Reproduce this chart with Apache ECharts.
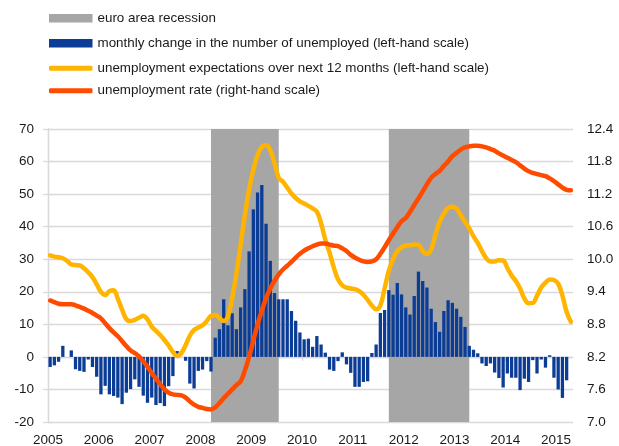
<!DOCTYPE html>
<html><head><meta charset="utf-8">
<script src="https://cdn.jsdelivr.net/npm/echarts@6/dist/echarts.min.js"></script>
<style>html,body{margin:0;padding:0;background:#fff}#c{width:619px;height:446px}</style>
</head><body><div id="c"></div>
<script>
// ---- data (monthly, Jan 2005 onwards) ----
const startYear = 2005;
const yearLabels = ['2005','2006','2007','2008','2009','2010','2011','2012','2013','2014','2015'];
const rightTicks = [7.0, 7.6, 8.2, 8.8, 9.4, 10.0, 10.6, 11.2, 11.8, 12.4];
const recessions = [['2008-03', '2009-07'], ['2011-09', '2013-04']];
const seriesNames = [
  'euro area recession',
  'monthly change in the number of unemployed (left-hand scale)',
  'unemployment expectations over next 12 months (left-hand scale)',
  'unemployment rate (right-hand scale)'
];
const unemployedChange = [
  -3.1, -2.6, -1.5, 3.4, 0, 2.0, -3.8, -4.3, -4.6, -0.8, -3.1, -6.1,
  -11.5, -8.9, -11.5, -12.0, -12.5, -14.5, -11.0, -9.9, -6.9, -9.2, -11.9, -14.1,
  -12.5, -14.8, -14.2, -15.1, -9.0, -5.9, 1.8, 0, -1.2, -8.2, -9.7, -4.3,
  -3.9, -1.3, -4.5, 5.9, 8.5, 17.7, 9.7, 13.4, 8.5, 15.2, 20.8, 32.4,
  45.3, 50.5, 52.8, 40.9, 29.5, 19.6, 17.7, 17.7, 17.7, 14.1, 11.1, 7.5,
  5.4, 5.6, 3.1, 6.4, 3.8, 1.3, -3.9, -4.3, -1.3, 1.4, -2.3, -4.9,
  -9.2, -9.2, -7.7, -7.5, 1.2, 3.8, 13.5, 14.4, 20.5, 19.1, 22.7, 19.2,
  15.2, 13.0, 18.7, 26.2, 23.3, 21.3, 14.8, 10.7, 7.7, 14.1, 17.4, 16.6,
  14.8, 12.3, 9.2, 3.4, 2.2, 1.1, -2.0, -2.8, -2.0, -4.8, -6.5, -9.4,
  -5.1, -6.4, -6.4, -10.2, -6.7, -7.7, -1.0, -5.1, -0.8, -3.3, 0.5, -6.4,
  -10.0, -12.6, -7.2
];
const expectations = [
  31.2, 30.8, 30.6, 30.3, 29.5, 28.4, 28.2, 28.1, 27.2, 26.0, 24.5, 22.3,
  20.0, 19.0, 20.2, 20.5, 17.8, 14.5, 11.6, 11.0, 11.4, 12.0, 12.6, 11.5,
  9.3, 8.0, 6.7, 5.2, 3.5, 1.5, 0.3, 1.2, 3.6, 6.5, 8.3, 9.0,
  9.7, 11.0, 12.6, 12.9, 11.9, 11.0, 12.5, 18.0, 25.6, 34.5, 43.5, 51.5,
  57.5, 62.0, 64.5, 65.0, 63.5, 59.5, 55.0, 53.8, 52.0, 50.2, 48.8, 47.8,
  47.1, 46.4, 45.6, 44.6, 41.0, 36.0, 32.0, 27.5, 23.8, 22.0, 21.3, 21.0,
  20.8, 20.2, 19.1, 17.5, 15.8, 14.6, 15.8, 21.0, 26.5, 30.0, 32.5, 33.6,
  34.2, 34.3, 34.5, 34.4, 32.5, 31.6, 33.0, 37.5, 41.5, 44.0, 45.8, 46.1,
  45.5, 43.5, 41.5, 39.5, 37.0, 35.0, 32.5, 30.3, 29.3, 29.3, 29.7, 29.6,
  27.3, 25.0, 23.3, 21.0, 18.0, 16.5, 16.6, 18.8, 21.3, 22.8, 23.8, 23.6,
  22.5, 18.8, 13.8, 10.8
];
const unemploymentRate = [
  9.24, 9.21, 9.18, 9.17, 9.17, 9.17, 9.15, 9.12, 9.09, 9.05, 9.01, 8.96,
  8.91, 8.82, 8.73, 8.65, 8.58, 8.49, 8.40, 8.32, 8.27, 8.21, 8.12, 8.02,
  7.90, 7.80, 7.70, 7.60, 7.54, 7.51, 7.50, 7.49, 7.45, 7.38, 7.32, 7.28,
  7.26, 7.24, 7.23, 7.27, 7.35, 7.44, 7.52, 7.60, 7.68, 7.75, 7.95, 8.20,
  8.50, 8.80, 9.05, 9.28, 9.46, 9.60, 9.72, 9.81, 9.88, 9.95, 10.03, 10.10,
  10.16, 10.20, 10.24, 10.27, 10.29, 10.29, 10.27, 10.25, 10.24, 10.20, 10.15, 10.08,
  10.03, 9.99, 9.96, 9.95, 9.96, 10.00, 10.10, 10.22, 10.35, 10.47, 10.59, 10.70,
  10.76, 10.87, 11.00, 11.12, 11.25, 11.38, 11.50, 11.57, 11.63, 11.72, 11.80, 11.90,
  11.96, 12.02, 12.06, 12.08, 12.09, 12.09, 12.08, 12.06, 12.03, 12.00, 11.95, 11.91,
  11.87, 11.83, 11.79, 11.73, 11.67, 11.62, 11.59, 11.57, 11.55, 11.53, 11.49, 11.44,
  11.38, 11.32, 11.28, 11.27
];

// ---- helpers: month index (centre of month) on a value x-axis ----
const monthsShown = 124;
const toPoint = (v, i) => [i + 0.5, v];
const monthCentre = s => { const [y, m] = s.split('-').map(Number); return (y - startYear) * 12 + (m - 1) + 0.5; };
const yearTicks = yearLabels.map((_, k) => k * 12);

const FONT = 'Liberation Sans';
const TXT = '#1a1a1a';
const GRID = '#d9d9d9';
const COLORS = ['#a6a6a6', '#0b3c96', '#ffb400', '#ff4b00'];

function legendItem(idx, top, h, icon) {
  return {
    data: [{ name: seriesNames[idx], icon: icon }],
    left: 49, top: top, padding: 0, orient: 'vertical',
    itemWidth: 43.5, itemHeight: h, selectedMode: false,
    itemStyle: { borderWidth: 0 },
    textStyle: { fontFamily: FONT, fontSize: 13.4, color: TXT, lineHeight: 16 }
  };
}

const chart = echarts.init(document.getElementById('c'), null, { renderer: 'canvas' });
chart.setOption({
  animation: false,
  color: COLORS,
  grid: { left: 48, right: 46, top: 129, bottom: 24, containLabel: false, outerBoundsMode: 'none' },
  legend: [
    legendItem(0, 10.3, 8.5, 'rect'),
    legendItem(1, 35.3, 8.5, 'rect'),
    legendItem(2, 60.3, 5, 'roundRect'),
    legendItem(3, 82.7, 5, 'roundRect')
  ],
  xAxis: [
    {
      type: 'value', min: 0, max: monthsShown, interval: 12, position: 'bottom',
      axisLine: { show: false, onZero: false }, axisTick: { show: false }, splitLine: { show: false },
      axisLabel: {
        margin: 11, fontFamily: FONT, fontSize: 13.5, color: TXT,
        customValues: yearTicks,
        formatter: v => yearLabels[Math.round(v / 12)] || ''
      }
    },
    {
      type: 'value', min: 0, max: monthsShown, interval: 12, position: 'bottom',
      axisLine: { show: true, onZero: true, onZeroAxisIndex: 0, lineStyle: { color: GRID, width: 1.3 } },
      axisTick: { show: true, length: 4, customValues: yearTicks, lineStyle: { color: GRID, width: 1.3 } },
      axisLabel: { show: false }, splitLine: { show: false }
    }
  ],
  yAxis: [
    {
      type: 'value', min: -20, max: 70, interval: 10, position: 'left',
      axisLine: { show: true, lineStyle: { color: GRID, width: 1.3 } },
      axisTick: { show: true, length: 5, lineStyle: { color: GRID, width: 1.3 } },
      splitLine: { show: true, lineStyle: { color: GRID, width: 1.3 } },
      axisLabel: { margin: 14, fontFamily: FONT, fontSize: 13.5, color: TXT }
    },
    {
      type: 'value', min: 7.0, max: 12.4, position: 'right',
      axisLine: { show: true, lineStyle: { color: GRID, width: 1.3 } },
      axisTick: { show: true, length: 5, customValues: rightTicks, lineStyle: { color: GRID, width: 1.3 } },
      splitLine: { show: false },
      axisLabel: { margin: 14, fontFamily: FONT, fontSize: 13.5, color: TXT,
        customValues: rightTicks, formatter: v => Number(v).toFixed(1) }
    }
  ],
  series: [
    {
      name: seriesNames[0], type: 'line', data: [], z: 1,
      itemStyle: { color: COLORS[0] }, lineStyle: { color: COLORS[0] },
      markArea: {
        silent: true, itemStyle: { color: COLORS[0], opacity: 1 },
        data: recessions.map(r => [{ xAxis: monthCentre(r[0]) }, { xAxis: monthCentre(r[1]) }])
      }
    },
    {
      name: seriesNames[1], type: 'bar', xAxisIndex: 0, yAxisIndex: 0, barWidth: 3.3,
      itemStyle: { color: COLORS[1] },
      data: unemployedChange.map(toPoint)
    },
    {
      name: seriesNames[2], type: 'line', xAxisIndex: 0, yAxisIndex: 0, smooth: 0.4, symbol: 'none',
      itemStyle: { color: COLORS[2] }, lineStyle: { color: COLORS[2], width: 4.5, cap: 'round', join: 'round' },
      data: expectations.map(toPoint)
    },
    {
      name: seriesNames[3], type: 'line', xAxisIndex: 0, yAxisIndex: 1, smooth: 0.4, symbol: 'none',
      itemStyle: { color: COLORS[3] }, lineStyle: { color: COLORS[3], width: 4.5, cap: 'round', join: 'round' },
      data: unemploymentRate.map(toPoint)
    }
  ]
});
</script>
</body></html>
